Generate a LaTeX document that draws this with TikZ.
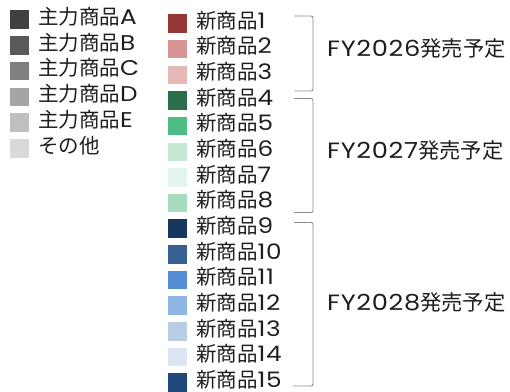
\documentclass[tikz,border=0pt]{standalone}
\usepackage{fontspec}
\setmainfont{Poppins}[FakeStretch=1.16,LetterSpace=3,Scale=1.04]
\newfontfamily\jp{Noto Sans CJK JP}
\definecolor{mA}{HTML}{404040}
\definecolor{mB}{HTML}{595959}
\definecolor{mC}{HTML}{808080}
\definecolor{mD}{HTML}{A5A5A5}
\definecolor{mE}{HTML}{BFBFBF}
\definecolor{mF}{HTML}{D9D9D9}
\definecolor{n1}{HTML}{953735}
\definecolor{n2}{HTML}{D99594}
\definecolor{n3}{HTML}{E6B9B8}
\definecolor{n4}{HTML}{2B6E4B}
\definecolor{n5}{HTML}{4DBD84}
\definecolor{n6}{HTML}{C5E8D5}
\definecolor{n7}{HTML}{E3F4EA}
\definecolor{n8}{HTML}{A8DCBF}
\definecolor{n9}{HTML}{17375E}
\definecolor{n10}{HTML}{376092}
\definecolor{n11}{HTML}{558ED5}
\definecolor{n12}{HTML}{8EB4E3}
\definecolor{n13}{HTML}{B9CDE5}
\definecolor{n14}{HTML}{DCE6F2}
\definecolor{n15}{HTML}{1F497D}
\definecolor{brc}{HTML}{8A8A8A}
\definecolor{txt}{HTML}{1E1E1E}
\tikzset{
  sq/.style={minimum size=18.5pt, inner sep=0pt, draw=none, outer sep=0pt},
  lbl/.style={anchor=west, inner sep=0pt, text=txt, text height=0.83em, text depth=0.07em},
  grp/.style={lbl, font=\fontsize{21.3}{25}\selectfont},
  br/.style={draw=brc, line width=0.9pt, rounded corners=2pt},
}
\begin{document}
\begin{tikzpicture}[x=1pt,y=-1pt,font=\fontsize{20.5}{24}\selectfont]
\useasboundingbox (0,0) rectangle (510,391);
% left legend
\foreach \c/\t [count=\i from 0] in {mA/{{\jp 主力商品}A},mB/{{\jp 主力商品}B},mC/{{\jp 主力商品}C},mD/{{\jp 主力商品}D},mE/{{\jp 主力商品}E},mF/{{\jp その他}}}{
  \node[sq, fill=\c] (m\i) at (19.3, 19.5+25.75*\i) {};
  \node[lbl] (mt\i) at (38, 20.5+25.75*\i) {\t};
}
% right legend
\foreach \k [count=\i from 0] in {1,...,15}{
  \node[sq, fill=n\k] (s\k) at (177.5, 23.5+25.65*\i) {};
  \node[lbl] (t\k) at (196, 24.3+25.65*\i) {{\jp 新商品}\k};
}
% brackets
\coordinate (b1a) at (294,16);   \coordinate (b1m) at (313,53.5);  \coordinate (b1b) at (294,91);
\coordinate (b2a) at (294,98.5); \coordinate (b2m) at (313,155.5); \coordinate (b2b) at (294,212.5);
\coordinate (b3a) at (294,222.5);\coordinate (b3m) at (313,305);   \coordinate (b3b) at (293,386);
\draw[br] (b1a) -| (b1m) |- (b1b);
\draw[br] (b2a) -| (b2m) |- (b2b);
\draw[br] (b3a) -| (b3m) |- (b3b);
\node[grp] (g1) at (327,53) {FY2026{\jp 発売予定}};
\node[grp] (g2) at (327,155) {FY2027{\jp 発売予定}};
\node[grp] (g3) at (327,306.5) {FY2028{\jp 発売予定}};
\end{tikzpicture}
\end{document}
